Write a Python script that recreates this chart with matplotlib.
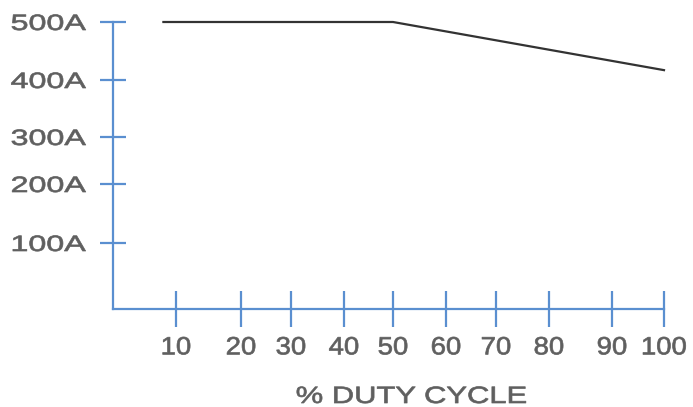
import matplotlib.pyplot as plt
import matplotlib.patheffects as pe
from matplotlib.path import Path
from matplotlib.transforms import Affine2D
import numpy as np

# duty cycle curve
duty = [8, 50, 100]
amps = [500, 500, 417]

x_ticks = [10, 20, 30, 40, 50, 60, 70, 80, 90, 100]
y_ticks = [100, 200, 300, 400, 500]
y_labels = ['100A', '200A', '300A', '400A', '500A']

# the original axes are hand-spaced, so map values to pixel spacing
x_ref = [0, 10, 20, 30, 40, 50, 60, 70, 80, 90, 100]
x_px = [113, 176, 241, 291, 344, 393, 446, 496, 549, 612, 664]
y_ref = [0, 100, 200, 300, 400, 500]
y_px = [98, 164, 223, 270, 327, 385]

blue = '#5a8fd0'
grey = '#5f5f5f'
plt.rcParams['font.family'] = ['Liberation Sans', 'DejaVu Sans']


class Widen(pe.AbstractPathEffect):
    # the source image text is stretched sideways and a bit heavy
    def __init__(self, sx, anchor='center', stroke=0.5):
        super().__init__()
        self.sx = sx
        self.anchor = anchor
        self.stroke = stroke

    def draw_path(self, renderer, gc, tpath, affine, rgbFace=None):
        v = tpath.vertices
        if tpath.codes is not None:
            v = v[tpath.codes != Path.CLOSEPOLY]
        lo, hi = v[:, 0].min(), v[:, 0].max()
        c = {'left': lo, 'center': (lo + hi) / 2, 'right': hi}[self.anchor]
        t = Affine2D().translate(-c, 0).scale(self.sx, 1).translate(c, 0)
        gc0 = renderer.new_gc()
        gc0.copy_properties(gc)
        gc0.set_linewidth(self.stroke)
        renderer.draw_path(gc0, tpath, t + affine, rgbFace)
        gc0.restore()


fig = plt.figure(figsize=(6.93, 4.07), dpi=100)
ax = fig.add_axes([113 / 693, 98 / 407, (664 - 113) / 693, (385 - 98) / 407])

ax.set_xscale('function', functions=(lambda v: np.interp(v, x_ref, x_px),
                                     lambda p: np.interp(p, x_px, x_ref)))
ax.set_yscale('function', functions=(lambda v: np.interp(v, y_ref, y_px),
                                     lambda p: np.interp(p, y_px, y_ref)))

ax.plot(duty, amps, color='#333333', lw=1.6, clip_on=False)

ax.set_xlim(0, 100)
ax.set_ylim(0, 500)
ax.set_xticks(x_ticks)
ax.set_xticklabels([str(v) for v in x_ticks], fontsize=18, color=grey,
                   path_effects=[Widen(1.1, 'center')])
ax.set_yticks(y_ticks)
ax.set_yticklabels(y_labels, fontsize=16, color=grey,
                   path_effects=[Widen(1.45, 'right')])

for s in ['top', 'right']:
    ax.spines[s].set_visible(False)
for s in ['left', 'bottom']:
    ax.spines[s].set_color(blue)
    ax.spines[s].set_linewidth(1.6)

ax.tick_params(axis='y', direction='inout', length=19, width=1.6, color=blue, pad=10)
ax.tick_params(axis='x', direction='inout', length=26, width=1.6, color=blue, pad=6)

ax.set_xlabel('% DUTY CYCLE', fontsize=17, color=grey, va='baseline',
              path_effects=[Widen(1.31, 'center')])
ax.xaxis.set_label_coords((411.5 - 113) / 551, (4 - 98) / 287)

fig.savefig('out.png', dpi=100)
